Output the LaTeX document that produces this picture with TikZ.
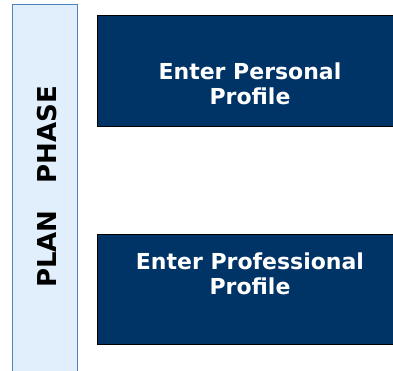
\documentclass[tikz,border=0pt]{standalone}
\usepackage{fontspec}
\setmainfont{DejaVu Sans}
\usetikzlibrary{positioning}

\definecolor{navy}{HTML}{003366}
\definecolor{phasefill}{HTML}{E1EEFC}
\definecolor{phaseline}{HTML}{4F81BD}

\tikzset{
    phasebar/.style={rectangle, draw=phaseline, fill=phasefill, line width=1pt, minimum width=64.5pt, minimum height=371pt, inner sep=0pt},
    stepbox/.style={rectangle, draw=black, fill=navy, line width=1pt, minimum width=306.5pt, minimum height=110.5pt, inner sep=0pt},
    steptext/.style={text=white, font=\bfseries\fontsize{22}{25}\selectfont, align=center, inner sep=0pt}
}

\begin{document}
\begin{tikzpicture}[x=1pt, y=-1pt]
    \useasboundingbox (0,0) rectangle (393,370);
    % phase bar on the left
    \node[phasebar] (plan) at (44.75,190) {};
    \node[rotate=90, font=\bfseries\fontsize{26}{30}\selectfont, inner sep=0pt] (plantext) at (47.5,187) {PLAN\hspace{27pt}PHASE};
    % the two steps
    \node[stepbox] (personal) at (250.75,70.75) {};
    \node[steptext] (personaltext) at (250,84.2) {Enter Personal\\Profile};
    \node[stepbox] (professional) at (250.75,289.25) {};
    \node[steptext] (professionaltext) at (250,274.2) {Enter Professional\\Profile};
\end{tikzpicture}
\end{document}
